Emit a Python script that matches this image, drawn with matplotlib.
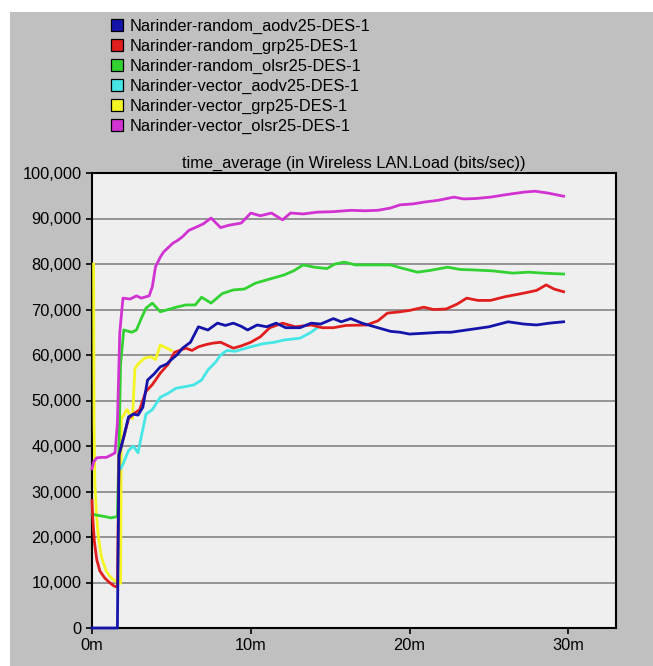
import matplotlib
matplotlib.use("Agg")
import matplotlib.pyplot as plt
from matplotlib.patches import Patch, Rectangle
from matplotlib.ticker import FuncFormatter, MultipleLocator

plt.rcParams['font.family'] = ['Liberation Sans', 'DejaVu Sans']

# simulation time (minutes) and wireless LAN load (bits/sec) per scenario
random_aodv_t = [0, 1.6, 1.7, 2.0, 2.3, 2.6, 2.9, 3.2, 3.5, 3.9, 4.3, 4.7, 5.0, 5.4, 5.7, 6.2, 6.7, 7.3,
                 7.9, 8.4, 8.9, 9.4, 9.8, 10.4, 11.0, 11.6, 12.2, 13.1, 13.8, 14.4, 15.2, 15.7, 16.3,
                 17.0, 18.0, 18.8, 19.4, 20.0, 21.0, 22.0, 22.6, 23.4, 24.0, 25.0, 26.2, 27.2, 28.0,
                 28.8, 29.7]
random_aodv_v = [0, 0, 38000, 42000, 46400, 47000, 46800, 48500, 54500, 55800, 57400, 58000, 59000,
                 60200, 61500, 62800, 66200, 65500, 67000, 66500, 67000, 66300, 65500, 66600, 66200,
                 67000, 66000, 66000, 67000, 66800, 68000, 67300, 68000, 67000, 66000, 65200, 65000,
                 64600, 64800, 65000, 65000, 65400, 65700, 66200, 67300, 66800, 66600, 67000, 67300]

random_grp_t = [0, 0.05, 0.15, 0.3, 0.5, 0.8, 1.1, 1.4, 1.6, 1.7, 2.0, 2.3, 2.6, 3.0, 3.4, 3.8, 4.3,
                4.8, 5.2, 5.9, 6.3, 6.7, 7.2, 7.6, 8.1, 8.9, 9.4, 10.0, 10.6, 11.2, 12.0, 12.8, 13.8,
                14.5, 15.2, 16.0, 17.3, 18.0, 18.6, 19.4, 20.0, 20.9, 21.5, 22.3, 23.0, 23.6, 24.3,
                25.1, 26.0, 27.2, 28.0, 28.6, 29.1, 29.7]
random_grp_v = [28000, 24000, 19000, 15000, 12500, 11000, 10000, 9200, 9000, 38000, 42000, 46000,
                47000, 48000, 52000, 53500, 56000, 58000, 60600, 61500, 61000, 61800, 62300, 62600,
                62800, 61500, 62000, 62800, 64000, 66000, 67000, 66200, 66600, 66000, 66000, 66500,
                66600, 67500, 69200, 69500, 69800, 70500, 70000, 70100, 71200, 72500, 72000, 72000,
                72800, 73600, 74200, 75400, 74500, 73900]

random_olsr_t = [0, 0.3, 0.8, 1.2, 1.6, 1.7, 1.8, 2.0, 2.5, 2.8, 3.1, 3.4, 3.8, 4.3, 4.8, 5.3, 5.9,
                 6.5, 6.9, 7.5, 8.2, 8.9, 9.6, 10.3, 11.0, 12.1, 12.7, 13.3, 14.0, 14.8, 15.3, 15.9,
                 16.6, 17.3, 18.0, 18.8, 19.4, 20.5, 21.3, 22.4, 23.2, 24.0, 25.2, 26.5, 27.5, 28.4,
                 29.0, 29.7]
random_olsr_v = [25000, 24800, 24500, 24200, 24500, 40000, 58000, 65500, 65000, 65500, 68000, 70300,
                 71400, 69500, 70000, 70500, 71000, 71000, 72700, 71400, 73500, 74300, 74500, 75800,
                 76500, 77600, 78500, 79800, 79300, 79000, 80000, 80400, 79800, 79800, 79800, 79800,
                 79200, 78200, 78600, 79300, 78800, 78700, 78500, 78000, 78200, 78000, 77900, 77800]

vector_aodv_t = [1.8, 1.95, 2.3, 2.6, 2.9, 3.1, 3.4, 3.8, 4.3, 4.8, 5.3, 5.8, 6.4, 6.9, 7.3, 7.8,
                 8.1, 8.5, 9.0, 10.0, 10.8, 11.5, 12.1, 13.1, 13.7, 14.2]
vector_aodv_v = [35000, 36000, 39000, 40000, 38500, 42000, 47000, 48000, 50700, 51600, 52700, 53000,
                 53400, 54500, 56700, 58500, 60000, 61000, 60800, 61800, 62500, 62800, 63300, 63700,
                 64800, 66000]

vector_grp_t = [0.1, 0.13, 0.18, 0.28, 0.4, 0.6, 0.9, 1.2, 1.5, 1.8, 1.85, 2.2, 2.55, 2.7, 2.9, 3.3,
                3.7, 4.0, 4.3, 4.7, 5.0]
vector_grp_v = [80000, 45000, 32000, 25000, 20000, 15500, 12500, 11000, 10200, 9800, 46000, 48000,
                46000, 57000, 58000, 59300, 59600, 59000, 62200, 61500, 61000]

vector_olsr_t = [0, 0.1, 0.3, 0.6, 0.9, 1.2, 1.45, 1.6, 1.75, 1.95, 2.4, 2.8, 3.1, 3.6, 3.8, 4.0,
                 4.3, 4.5, 5.1, 5.4, 5.7, 6.1, 6.5, 7.0, 7.5, 8.1, 8.6, 9.4, 10.0, 10.6, 11.3, 12.0,
                 12.5, 13.3, 14.2, 15.2, 16.3, 17.2, 18.0, 18.8, 19.4, 20.2, 20.9, 21.8, 22.8, 23.4,
                 24.2, 25.1, 26.0, 27.2, 27.9, 28.7, 29.7]
vector_olsr_v = [35000, 36500, 37400, 37500, 37500, 38000, 38500, 45000, 65000, 72500, 72300, 73000,
                 72500, 73000, 75000, 79400, 81500, 82600, 84600, 85200, 86000, 87400, 88000, 88800,
                 90100, 88000, 88500, 89000, 91200, 90600, 91200, 89700, 91200, 91000, 91400, 91500,
                 91800, 91700, 91800, 92300, 93000, 93200, 93600, 94000, 94700, 94300, 94400, 94700,
                 95200, 95800, 96000, 95600, 94900]

labels = ['Narinder-random_aodv25-DES-1', 'Narinder-random_grp25-DES-1',
          'Narinder-random_olsr25-DES-1', 'Narinder-vector_aodv25-DES-1',
          'Narinder-vector_grp25-DES-1', 'Narinder-vector_olsr25-DES-1']
colors = ['#1414aa', '#e01e1e', '#32d232', '#46e6e6', '#f5f523', '#d232d2']

series = [(random_aodv_t, random_aodv_v), (random_grp_t, random_grp_v),
          (random_olsr_t, random_olsr_v), (vector_aodv_t, vector_aodv_v),
          (vector_grp_t, vector_grp_v), (vector_olsr_t, vector_olsr_v)]
zorders = [8, 7, 6, 5, 4, 9]

fig = plt.figure(figsize=(6.53, 6.66), dpi=100, facecolor='white')
# grey panel behind everything, leaving a thin white margin left and top
fig.patches.append(Rectangle((10 / 653, 0), 1, 654 / 666, transform=fig.transFigure,
                             facecolor='#c0c0c0', edgecolor='none', zorder=-5))

ax = fig.add_axes([92 / 653, 38 / 666, 524 / 653, 455 / 666])
ax.set_facecolor('#efefef')

for (t, v), c, z in zip(series, colors, zorders):
    ax.plot(t, v, color=c, lw=2.0, zorder=z, solid_joinstyle='round', clip_on=False)

ax.set_xlim(0, 33)
ax.set_ylim(0, 100000)
ax.yaxis.set_major_locator(MultipleLocator(10000))
ax.xaxis.set_major_locator(MultipleLocator(10))
ax.yaxis.set_major_formatter(FuncFormatter(lambda v, p: f'{int(v):,}'))
ax.xaxis.set_major_formatter(FuncFormatter(lambda v, p: f'{int(v)}m'))
ax.grid(axis='y', color='#848484', lw=1.2, zorder=1)
ax.set_axisbelow(True)
for s in ax.spines.values():
    s.set_linewidth(1.5)
    s.set_color('black')
    s.set_zorder(3)
ax.tick_params(length=4.5, width=1.2, labelsize=11.75, pad=3, colors='black')
ax.set_title('time_average (in Wireless LAN.Load (bits/sec))', fontsize=11.75, pad=4)

handles = [Patch(facecolor=c, edgecolor='black', lw=0.9) for c in colors]
fig.legend(handles, labels, loc='upper left', bbox_to_anchor=(104 / 653, 1 - 12 / 666),
           frameon=False, fontsize=11.75, handlelength=0.75, handleheight=0.75,
           handletextpad=0.45, labelspacing=0.3, borderaxespad=0)

fig.savefig('out.png', dpi=100, facecolor=fig.get_facecolor())
